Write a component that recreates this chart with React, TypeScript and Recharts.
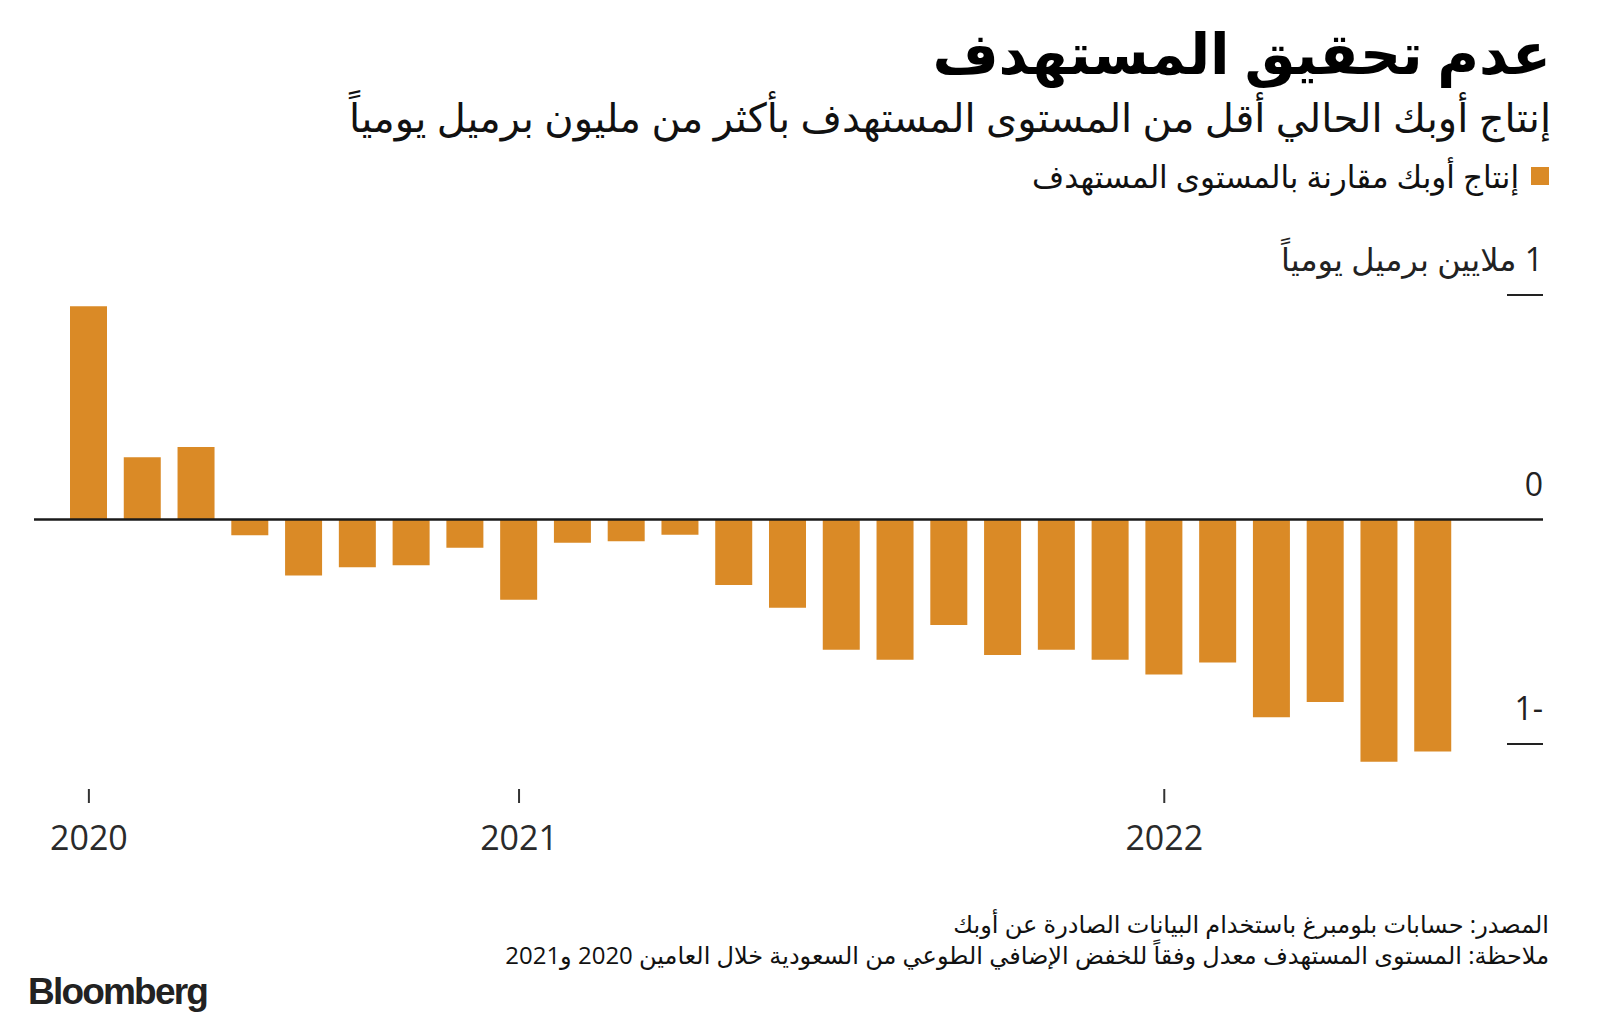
import React from "react";
import { BarChart, Bar, XAxis, YAxis, ReferenceLine } from "recharts";

// monthly OPEC+ output vs target, million barrels per day
const months = [
  "2020-05", "2020-06", "2020-07", "2020-08", "2020-09", "2020-10", "2020-11", "2020-12",
  "2021-01", "2021-02", "2021-03", "2021-04", "2021-05", "2021-06", "2021-07", "2021-08",
  "2021-09", "2021-10", "2021-11", "2021-12", "2022-01", "2022-02", "2022-03", "2022-04",
  "2022-05", "2022-06"
];
const gapToTarget = [
  0.95, 0.277, 0.323, -0.07, -0.249, -0.213, -0.204, -0.126,
  -0.357, -0.104, -0.097, -0.068, -0.292, -0.393, -0.58, -0.625,
  -0.47, -0.603, -0.58, -0.625, -0.69, -0.637, -0.881, -0.8125,
  -1.079, -1.033
];
const yearTicks = ["2020-05", "2021-01", "2022-01"];
const yearLabels = ["2020", "2021", "2022"];
const yTicks = [-1, 0, 1];

const title = "عدم تحقيق المستهدف";
const subtitle = "إنتاج أوبك الحالي أقل من المستوى المستهدف بأكثر من مليون برميل يومياً";
const legendLabel = "إنتاج أوبك مقارنة بالمستوى المستهدف";
const unitLabel = "ملايين برميل يومياً";
const sourceNote = "المصدر: حسابات بلومبرغ باستخدام البيانات الصادرة عن أوبك";
const footNote = "ملاحظة: المستوى المستهدف معدل وفقاً للخفض الإضافي الطوعي من السعودية خلال العامين 2020 و2021";

const FONT = "'Open Sans', 'DejaVu Sans', sans-serif";
const ORANGE = "#DA8A26";

const chartData = months.map((m, i) => ({ month: m, gap: gapToTarget[i] }));

const XTick = (props: any) => {
  const { x, y, payload } = props;
  const idx = yearTicks.indexOf(payload.value);
  if (idx < 0) return <g />;
  return (
    <g>
      <line x1={x} x2={x} y1={y} y2={y + 14} stroke="#333" strokeWidth={2} />
      <text x={x} y={y + 61} textAnchor="middle" fontSize={34} fill="#2a2a2a" fontFamily={FONT}>
        {yearLabels[idx]}
      </text>
    </g>
  );
};

const YTick = (props: any) => {
  const { x, y, payload } = props;
  const v = payload.value as number;
  const label = v === 1 ? `\u202B1 ${unitLabel}\u202C` : v < 0 ? `${-v}-` : `${v}`;
  return (
    <g>
      {v !== 0 && <line x1={x - 36} x2={x} y1={y} y2={y} stroke="#222" strokeWidth={2} />}
      <text x={x} y={y - 24} textAnchor="end" fontSize={32} fill="#222" fontFamily={FONT}>
        {label}
      </text>
    </g>
  );
};

export default function App() {
  return (
    <div style={{ position: "absolute", left: 0, top: 0, width: 1600, height: 1023, background: "#fff", fontFamily: FONT, overflow: "hidden" }}>
      <div style={{ position: "absolute", right: 49, top: 12, fontSize: 57, fontWeight: 700, direction: "rtl", color: "#000", lineHeight: "80px" }}>
        {title}
      </div>
      <div style={{ position: "absolute", right: 49, top: 90, fontSize: 40, direction: "rtl", color: "#111", lineHeight: "54px" }}>
        {subtitle}
      </div>
      <div style={{ position: "absolute", right: 51, top: 156, fontSize: 31, direction: "rtl", color: "#111", lineHeight: "40px", display: "flex", alignItems: "center" }}>
        <span style={{ display: "inline-block", width: 18, height: 18, background: ORANGE, marginLeft: 12 }} />
        <span>{legendLabel}</span>
      </div>

      <div style={{ position: "absolute", left: 0, top: 0 }}>
        <BarChart width={1600} height={1023} data={chartData} margin={{ top: 250, right: 0, bottom: 174, left: 34 }}>
          <XAxis
            dataKey="month"
            height={60}
            interval={0}
            tickLine={false}
            axisLine={false}
            tickSize={0}
            tickMargin={0}
            padding={{ left: 28, right: 83 }}
            tick={<XTick />}
          />
          <YAxis
            orientation="right"
            width={57}
            domain={[-1.2, 1.2]}
            ticks={yTicks}
            interval={0}
            tickLine={false}
            axisLine={false}
            tickSize={0}
            tickMargin={0}
            tick={<YTick />}
          />
          <ReferenceLine y={0} stroke="#1a1a1a" strokeWidth={2.5} />
          <Bar dataKey="gap" fill={ORANGE} barSize={37} isAnimationActive={false} />
        </BarChart>
      </div>

      <div style={{ position: "absolute", right: 51, top: 908, fontSize: 24, direction: "rtl", color: "#111", lineHeight: "31px", textAlign: "right" }}>
        <div>{sourceNote}</div>
        <div>{footNote}</div>
      </div>
      <div style={{ position: "absolute", left: 28, top: 970, fontSize: 37, fontWeight: 700, color: "#222", fontFamily: "'Liberation Sans', Arial, sans-serif", letterSpacing: -1.8, lineHeight: "44px" }}>
        Bloomberg
      </div>
    </div>
  );
}
